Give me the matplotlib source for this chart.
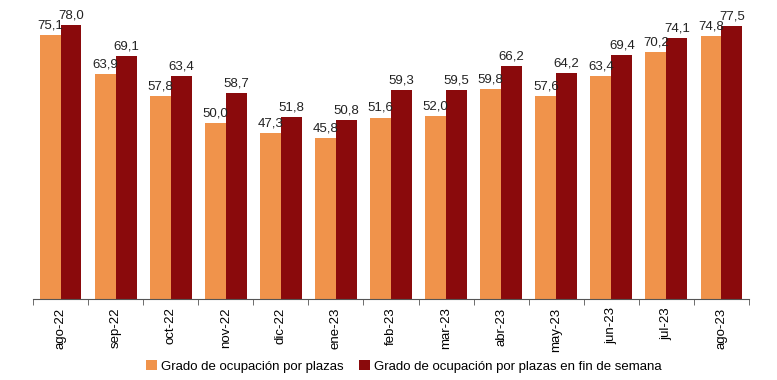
import numpy as np
import matplotlib.pyplot as plt

plt.rcParams['font.family'] = ['Liberation Sans', 'DejaVu Sans']

months = ["ago-22", "sep-22", "oct-22", "nov-22", "dic-22", "ene-23", "feb-23",
          "mar-23", "abr-23", "may-23", "jun-23", "jul-23", "ago-23"]
plazas = [75.1, 63.9, 57.8, 50.0, 47.3, 45.8, 51.6, 52.0, 59.8, 57.6, 63.4, 70.2, 74.8]
plazas_finde = [78.0, 69.1, 63.4, 58.7, 51.8, 50.8, 59.3, 59.5, 66.2, 64.2, 69.4, 74.1, 77.5]

c_orange = '#F0934B'
c_dark = '#8A0A0C'

fig = plt.figure(figsize=(7.77, 3.8), dpi=100)
ax = fig.add_axes([0.0425, 0.213, 0.9215, 0.787])

x = np.arange(len(months))
w = 0.38
b1 = ax.bar(x - w / 2, plazas, w, color=c_orange, label="Grado de ocupación por plazas")
b2 = ax.bar(x + w / 2, plazas_finde, w, color=c_dark,
            label="Grado de ocupación por plazas en fin de semana")

for rect, v in zip(b1, plazas):
    ax.text(rect.get_x() + rect.get_width() / 2, v + 1.0, f"{v:.1f}".replace('.', ','),
            ha='center', va='bottom', fontsize=9.5, color='#222222')
for rect, v in zip(b2, plazas_finde):
    ax.text(rect.get_x() + rect.get_width() / 2, v + 1.0, f"{v:.1f}".replace('.', ','),
            ha='center', va='bottom', fontsize=9.5, color='#222222')

ax.set_xlim(-0.5, len(months) - 0.5)
ax.set_ylim(0, 85)
ax.set_xticks(x)
ax.set_xticklabels(months, rotation=90, fontsize=9.5)
ax.set_xticks(np.arange(-0.5, len(months)), minor=True)
ax.tick_params(axis='x', which='major', length=0, pad=6)
ax.tick_params(axis='x', which='minor', length=4, color='#555555')
ax.set_yticks([])

for s in ['top', 'right', 'left']:
    ax.spines[s].set_visible(False)
ax.spines['bottom'].set_color('#555555')

fig.legend(handles=[b1, b2], loc='center', bbox_to_anchor=(0.52, 0.035), ncol=2,
           frameon=False, fontsize=9.5, handlelength=0.8, handleheight=0.8,
           handletextpad=0.3, columnspacing=1.2)

fig.savefig('out.png', dpi=100)
